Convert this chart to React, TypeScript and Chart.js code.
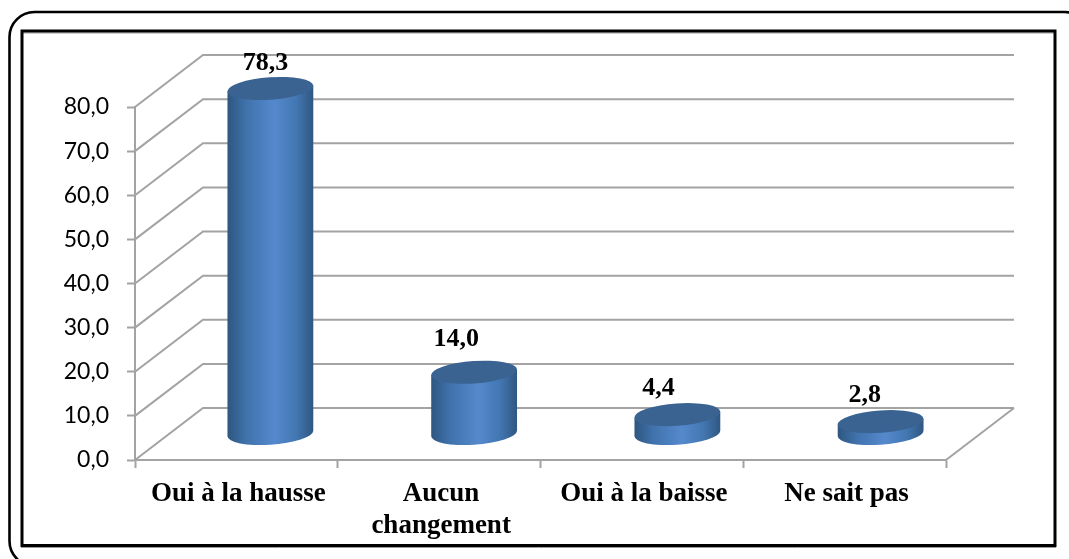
import React, { useEffect, useRef } from "react";
import { Chart, registerables } from "chart.js";

Chart.register(...registerables);

const categories = ["Oui à la hausse", ["Aucun", "changement"], "Oui à la baisse", "Ne sait pas"];
const shares = [78.3, 14.0, 4.4, 2.8];
const cylinderShiftX = [0, 1, 1.5, 2];
const labelNudgeX = [-5, -18, -19, -16];
const labelNudgeY = [-25, -33, -26, -26];

const DEPTH_X = 68;
const DEPTH_Y = 52;
const WALL_COLOR = "#A3A3A3";
const ELLIPSE_TILT = (-4 * Math.PI) / 180;
const ELLIPSE_FLATNESS = 0.26;

const frLabel = (v: number) => v.toFixed(1).replace(".", ",");

// Outer rounded border and inner rectangular border of the figure.
const framePlugin = {
  id: "frame",
  beforeDraw(chart: any) {
    const { ctx } = chart;
    ctx.save();
    ctx.fillStyle = "#fff";
    ctx.fillRect(0, 0, chart.width, chart.height);
    ctx.strokeStyle = "#000";
    ctx.lineWidth = 2.6;
    ctx.beginPath();
    ctx.roundRect(9.5, 12, 1080, 554, 25);
    ctx.stroke();
    ctx.strokeStyle = "#9a9a9a";
    ctx.lineWidth = 1;
    ctx.beginPath();
    ctx.moveTo(23, 33);
    ctx.lineTo(1054, 33);
    ctx.moveTo(21, 547.5);
    ctx.lineTo(1056, 547.5);
    ctx.stroke();
    ctx.strokeStyle = "#000";
    ctx.lineWidth = 3;
    ctx.strokeRect(22, 31, 1033, 514.5);
    ctx.restore();
  },
};

// Back wall and side wall of the 3D plot box, projected from the value axis.
const wallPlugin = {
  id: "walls",
  beforeDatasetsDraw(chart: any) {
    const { ctx, scales } = chart;
    const { left, right, bottom } = chart.chartArea;
    ctx.save();
    ctx.strokeStyle = WALL_COLOR;
    ctx.lineWidth = 2;
    ctx.lineJoin = "miter";
    scales.y.ticks.forEach((t: any) => {
      const y = scales.y.getPixelForValue(t.value);
      ctx.beginPath();
      ctx.moveTo(left, y);
      ctx.lineTo(left + DEPTH_X, y - DEPTH_Y);
      ctx.lineTo(right + DEPTH_X, y - DEPTH_Y);
      ctx.stroke();
    });
    ctx.beginPath();
    ctx.moveTo(right, bottom);
    ctx.lineTo(right + DEPTH_X, bottom - DEPTH_Y);
    ctx.stroke();
    ctx.restore();
  },
};

// Paints each bar as a cylinder standing mid-depth on the floor, then its value.
const cylinderPlugin = {
  id: "cylinders",
  afterDatasetsDraw(chart: any) {
    const { ctx } = chart;
    const bars = chart.getDatasetMeta(0).data;
    bars.forEach((bar: any, i: number) => {
      const cx = bar.x + DEPTH_X / 2 + cylinderShiftX[i];
      const topY = bar.y - DEPTH_Y / 2;
      const baseY = bar.base - DEPTH_Y / 2;
      const halfW = bar.width / 2;
      const rx = halfW * 1.01;
      const ry = rx * ELLIPSE_FLATNESS;
      const edge = Math.atan(-(ry / rx) * Math.tan(ELLIPSE_TILT));
      const ex = rx * Math.cos(edge) * Math.cos(ELLIPSE_TILT) - ry * Math.sin(edge) * Math.sin(ELLIPSE_TILT);
      const ey = rx * Math.cos(edge) * Math.sin(ELLIPSE_TILT) + ry * Math.sin(edge) * Math.cos(ELLIPSE_TILT);

      ctx.save();
      const body = ctx.createLinearGradient(cx - ex, 0, cx + ex, 0);
      body.addColorStop(0, "#2E5680");
      body.addColorStop(0.22, "#4072AC");
      body.addColorStop(0.55, "#5489CD");
      body.addColorStop(0.8, "#4377B2");
      body.addColorStop(1, "#2F5781");
      ctx.fillStyle = body;
      ctx.beginPath();
      ctx.moveTo(cx - ex, topY - ey);
      ctx.lineTo(cx - ex, baseY - ey);
      ctx.ellipse(cx, baseY, rx, ry, ELLIPSE_TILT, edge + Math.PI, edge, true);
      ctx.lineTo(cx + ex, topY + ey);
      ctx.closePath();
      ctx.fill();

      ctx.fillStyle = "#3B6392";
      ctx.beginPath();
      ctx.ellipse(cx, topY, rx, ry, ELLIPSE_TILT, 0, Math.PI * 2);
      ctx.fill();

      ctx.fillStyle = "#000";
      ctx.font = "bold 26px 'Liberation Serif'";
      ctx.textAlign = "center";
      ctx.textBaseline = "middle";
      ctx.fillText(frLabel(shares[i]), cx + labelNudgeX[i], topY + labelNudgeY[i]);
      ctx.restore();
    });
  },
};

export default function App() {
  const canvasRef = useRef<HTMLCanvasElement>(null);

  useEffect(() => {
    document.body.style.margin = "0";
    const chart = new Chart(canvasRef.current!, {
      type: "bar",
      data: {
        labels: categories as any,
        datasets: [
          {
            data: shares,
            backgroundColor: "rgba(0,0,0,0)",
            barPercentage: 0.42,
            categoryPercentage: 1,
          },
        ],
      },
      options: {
        responsive: false,
        animation: false,
        layout: { padding: { left: 0, top: 107, right: 123, bottom: 0 } },
        plugins: { legend: { display: false }, tooltip: { enabled: false } },
        scales: {
          x: {
            offset: true,
            afterFit(scale: any) {
              scale.height = 99;
            },
            border: { color: WALL_COLOR, width: 2 },
            grid: { offset: true, drawOnChartArea: false, tickLength: 8, tickColor: WALL_COLOR, tickWidth: 2 },
            ticks: {
              color: "#000",
              padding: 11,
              labelOffset: 2,
              maxRotation: 0,
              autoSkip: false,
              font: { family: "'Liberation Serif'", size: 27, weight: "bold", lineHeight: 1.15 },
            },
          },
          y: {
            min: 0,
            max: 80,
            afterFit(scale: any) {
              scale.width = 135;
            },
            border: { color: WALL_COLOR, width: 2 },
            grid: { drawOnChartArea: false, tickLength: 8, tickColor: WALL_COLOR, tickWidth: 2 },
            ticks: {
              stepSize: 10,
              color: "#000",
              padding: 18,
              callback: (v: any) => frLabel(Number(v)),
              font: { family: "Lato", size: 23 },
            },
          },
        },
      },
      plugins: [framePlugin, wallPlugin, cylinderPlugin],
    } as any);
    return () => chart.destroy();
  }, []);

  return <canvas ref={canvasRef} width={1069} height={559} style={{ display: "block" }} />;
}
